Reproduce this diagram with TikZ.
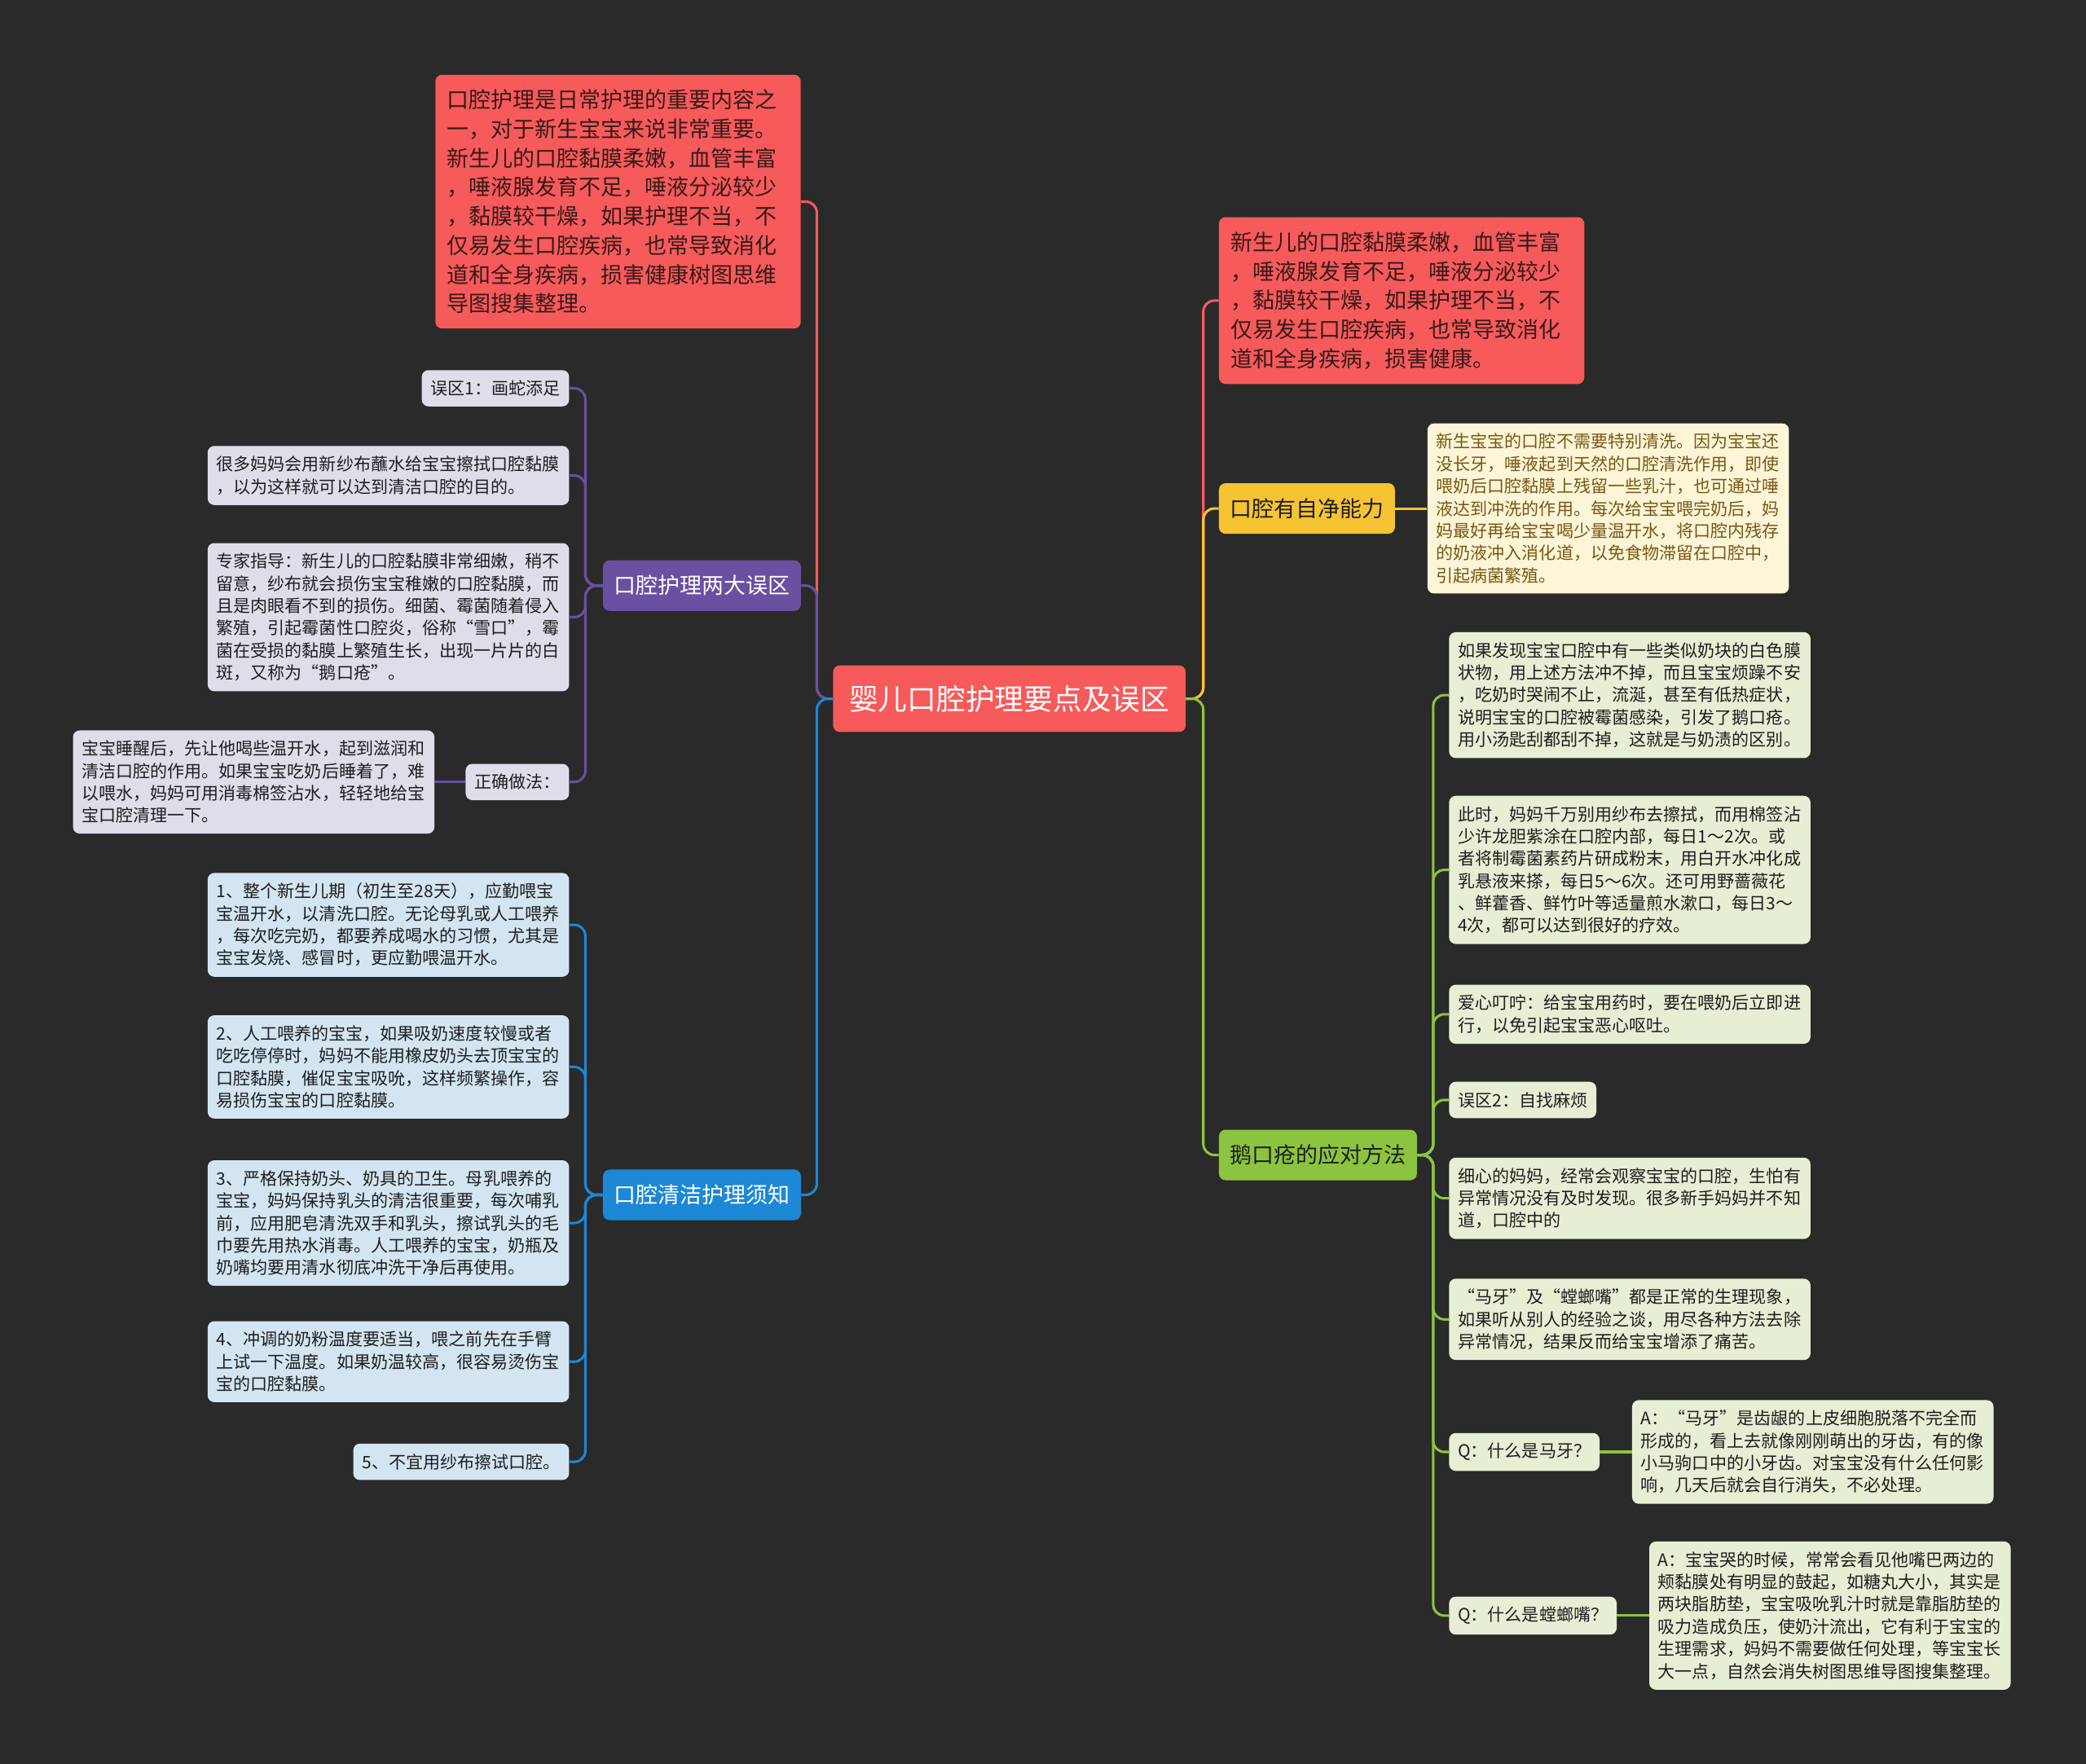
\documentclass[tikz,border=0pt]{standalone}
\usepackage{fontspec}
\setmainfont{Noto Sans CJK SC}
\usetikzlibrary{positioning}
\definecolor{BgDark}{RGB}{42,42,42}
\definecolor{RedMain}{RGB}{246,90,90}
\definecolor{RedText}{RGB}{55,25,25}
\definecolor{PurpleMain}{RGB}{106,80,160}
\definecolor{PurpleLight}{RGB}{224,220,234}
\definecolor{BlueMain}{RGB}{28,136,214}
\definecolor{BlueLight}{RGB}{211,229,242}
\definecolor{YellowMain}{RGB}{246,196,50}
\definecolor{YellowLight}{RGB}{252,245,216}
\definecolor{YellowText}{RGB}{120,88,20}
\definecolor{GreenMain}{RGB}{140,196,64}
\definecolor{GreenLight}{RGB}{230,238,212}
\definecolor{TextDark}{RGB}{30,30,30}

\begin{document}
\begin{tikzpicture}[x=0.03cm, y=-0.03cm,
    box/.style={rounded corners=0.15cm, inner ysep=0.23cm, inner xsep=0.2cm, align=left,
      font=\fontsize{11}{14.3}\selectfont, text=TextDark},
    note/.style={box, text width=7.75cm},
    topic/.style={rounded corners=0.15cm, inner xsep=0.25cm, minimum height=1.14cm,
      font=\fontsize{14.1}{18}\selectfont},
    bignote/.style={rounded corners=0.15cm, inner xsep=0.27cm, inner ysep=0.33cm,
      text width=7.7cm, align=left, fill=RedMain, text=RedText,
      font=\fontsize{14.1}{18.7}\selectfont},
    link/.style={line width=1.6pt, rounded corners=0.25cm}]
    % background
    \fill[BgDark] (0,0) rectangle (1568,1326);

    % root
    \node[rounded corners=0.15cm, fill=RedMain, text=white, anchor=north west,
      minimum width=7.95cm, minimum height=1.5cm,
      font=\fontsize{18.7}{22}\selectfont] (cen) at (626,500) {婴儿口腔护理要点及误区};

    % left side
    \node[bignote, anchor=north west] (redL) at (327,56) {口腔护理是日常护理的重要内容之\\一，对于新生宝宝来说非常重要。\\新生儿的口腔黏膜柔嫩，血管丰富\\，唾液腺发育不足，唾液分泌较少\\，黏膜较干燥，如果护理不当，不\\仅易发生口腔疾病，也常导致消化\\道和全身疾病，损害健康树图思维\\导图搜集整理。};

    \node[topic, fill=PurpleMain, text=white, anchor=north west] (pur) at (453,421) {口腔护理两大误区};
    \node[box, fill=PurpleLight, anchor=north east] (p1) at (428,278) {误区1：画蛇添足};
    \node[note, fill=PurpleLight, anchor=north east] (p2) at (428,335) {很多妈妈会用新纱布蘸水给宝宝擦拭口腔黏膜\\，以为这样就可以达到清洁口腔的目的。};
    \node[note, fill=PurpleLight, anchor=north east] (p3) at (428,408) {专家指导：新生儿的口腔黏膜非常细嫩，稍不\\留意，纱布就会损伤宝宝稚嫩的口腔黏膜，而\\且是肉眼看不到的损伤。细菌、霉菌随着侵入\\繁殖，引起霉菌性口腔炎，俗称“雪口”，霉\\菌在受损的黏膜上繁殖生长，出现一片片的白\\斑，又称为“鹅口疮”。};
    \node[box, fill=PurpleLight, anchor=north east] (p4) at (428,574) {正确做法：};
    \node[note, fill=PurpleLight, left=0.69cm of p4] (p5) {宝宝睡醒后，先让他喝些温开水，起到滋润和\\清洁口腔的作用。如果宝宝吃奶后睡着了，难\\以喂水，妈妈可用消毒棉签沾水，轻轻地给宝\\宝口腔清理一下。};

    \node[topic, fill=BlueMain, text=white, anchor=north west] (blu) at (453,879) {口腔清洁护理须知};
    \node[note, fill=BlueLight, anchor=north east] (b1) at (428,656) {1、整个新生儿期（初生至28天），应勤喂宝\\宝温开水，以清洗口腔。无论母乳或人工喂养\\，每次吃完奶，都要养成喝水的习惯，尤其是\\宝宝发烧、感冒时，更应勤喂温开水。};
    \node[note, fill=BlueLight, anchor=north east] (b2) at (428,763) {2、人工喂养的宝宝，如果吸奶速度较慢或者\\吃吃停停时，妈妈不能用橡皮奶头去顶宝宝的\\口腔黏膜，催促宝宝吸吮，这样频繁操作，容\\易损伤宝宝的口腔黏膜。};
    \node[note, fill=BlueLight, anchor=north east] (b3) at (428,872) {3、严格保持奶头、奶具的卫生。母乳喂养的\\宝宝，妈妈保持乳头的清洁很重要，每次哺乳\\前，应用肥皂清洗双手和乳头，擦试乳头的毛\\巾要先用热水消毒。人工喂养的宝宝，奶瓶及\\奶嘴均要用清水彻底冲洗干净后再使用。};
    \node[note, fill=BlueLight, anchor=north east] (b4) at (428,993) {4、冲调的奶粉温度要适当，喂之前先在手臂\\上试一下温度。如果奶温较高，很容易烫伤宝\\宝的口腔黏膜。};
    \node[box, fill=BlueLight, anchor=north east] (b5) at (428,1085) {5、不宜用纱布擦试口腔。};

    % right side
    \node[bignote, anchor=north west] (redR) at (916,163) {新生儿的口腔黏膜柔嫩，血管丰富\\，唾液腺发育不足，唾液分泌较少\\，黏膜较干燥，如果护理不当，不\\仅易发生口腔疾病，也常导致消化\\道和全身疾病，损害健康。};

    \node[topic, fill=YellowMain, text=TextDark, anchor=north west] (yel) at (916,363) {口腔有自净能力};
    \node[note, fill=YellowLight, text=YellowText, right=0.72cm of yel] (y1) {新生宝宝的口腔不需要特别清洗。因为宝宝还\\没长牙，唾液起到天然的口腔清洗作用，即使\\喂奶后口腔黏膜上残留一些乳汁，也可通过唾\\液达到冲洗的作用。每次给宝宝喂完奶后，妈\\妈最好再给宝宝喝少量温开水，将口腔内残存\\的奶液冲入消化道，以免食物滞留在口腔中，\\引起病菌繁殖。};

    \node[topic, fill=GreenMain, text=TextDark, anchor=north west] (grn) at (916,849) {鹅口疮的应对方法};
    \node[note, fill=GreenLight, anchor=north west] (g1) at (1089,475) {如果发现宝宝口腔中有一些类似奶块的白色膜\\状物，用上述方法冲不掉，而且宝宝烦躁不安\\，吃奶时哭闹不止，流涎，甚至有低热症状，\\说明宝宝的口腔被霉菌感染，引发了鹅口疮。\\用小汤匙刮都刮不掉，这就是与奶渍的区别。};
    \node[note, fill=GreenLight, anchor=north west] (g2) at (1089,598) {此时，妈妈千万别用纱布去擦拭，而用棉签沾\\少许龙胆紫涂在口腔内部，每日1～2次。或\\者将制霉菌素药片研成粉末，用白开水冲化成\\乳悬液来搽，每日5～6次。还可用野蔷薇花\\、鲜藿香、鲜竹叶等适量煎水漱口，每日3～\\4次，都可以达到很好的疗效。};
    \node[note, fill=GreenLight, anchor=north west] (g3) at (1089,740) {爱心叮咛：给宝宝用药时，要在喂奶后立即进\\行，以免引起宝宝恶心呕吐。};
    \node[box, fill=GreenLight, anchor=north west] (g4) at (1089,813) {误区2：自找麻烦};
    \node[note, fill=GreenLight, anchor=north west] (g5) at (1089,870) {细心的妈妈，经常会观察宝宝的口腔，生怕有\\异常情况没有及时发现。很多新手妈妈并不知\\道，口腔中的};
    \node[note, fill=GreenLight, anchor=north west] (g6) at (1089,961) {“马牙”及“螳螂嘴”都是正常的生理现象，\\如果听从别人的经验之谈，用尽各种方法去除\\异常情况，结果反而给宝宝增添了痛苦。};
    \node[box, fill=GreenLight, anchor=north west] (q1) at (1089,1077) {Q：什么是马牙？};
    \node[note, fill=GreenLight, right=0.72cm of q1] (a1) {A：“马牙”是齿龈的上皮细胞脱落不完全而\\形成的，看上去就像刚刚萌出的牙齿，有的像\\小马驹口中的小牙齿。对宝宝没有什么任何影\\响，几天后就会自行消失，不必处理。};
    \node[box, fill=GreenLight, anchor=north west] (q2) at (1089,1200) {Q：什么是螳螂嘴？};
    \node[note, fill=GreenLight, right=0.72cm of q2] (a2) {A：宝宝哭的时候，常常会看见他嘴巴两边的\\颊黏膜处有明显的鼓起，如糖丸大小，其实是\\两块脂肪垫，宝宝吸吮乳汁时就是靠脂肪垫的\\吸力造成负压，使奶汁流出，它有利于宝宝的\\生理需求，妈妈不需要做任何处理，等宝宝长\\大一点，自然会消失树图思维导图搜集整理。};

    % connectors
    \draw[link, RedMain] (cen.west) -- ++(-12,0) |- (redL.east);
    \draw[link, PurpleMain] (cen.west) -- ++(-12,0) |- (pur.east);
    \draw[link, BlueMain] (cen.west) -- ++(-12,0) |- (blu.east);
    \draw[link, RedMain] (cen.east) -- ++(13,0) |- (redR.west);
    \draw[link, YellowMain] (cen.east) -- ++(13,0) |- (yel.west);
    \draw[link, GreenMain] (cen.east) -- ++(13,0) |- (grn.west);

    \foreach \n in {p1,p2,p3,p4}
      \draw[link, PurpleMain] (pur.west) -- ++(-13,0) |- (\n.east);
    \draw[link, PurpleMain] (p4.west) -- (p5.east);

    \foreach \n in {b1,b2,b3,b4,b5}
      \draw[link, BlueMain] (blu.west) -- ++(-13,0) |- (\n.east);

    \draw[link, YellowMain] (yel.east) -- (y1.west);

    \foreach \n in {g1,g2,g3,g4,g5,g6,q1,q2}
      \draw[link, GreenMain] (grn.east) -- ++(12,0) |- (\n.west);
    \draw[link, GreenMain] (q1.east) -- (a1.west);
    \draw[link, GreenMain] (q2.east) -- (a2.west);
  \end{tikzpicture}
\end{document}
